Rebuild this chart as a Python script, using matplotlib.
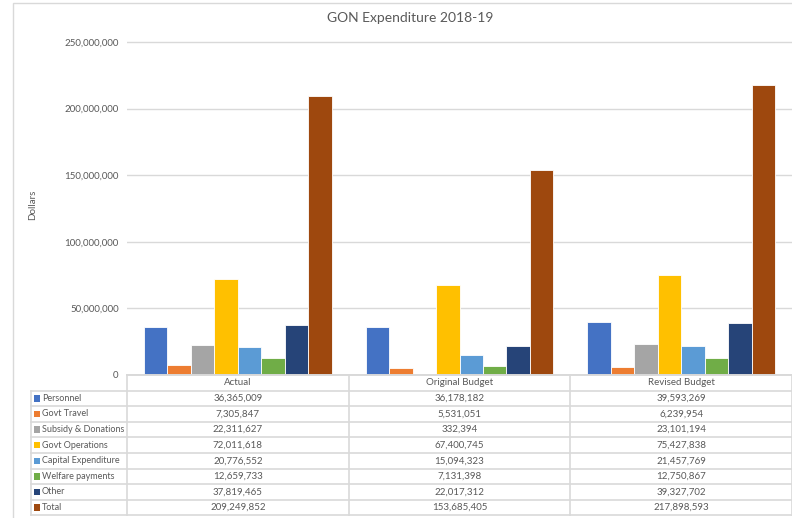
import numpy as np
import matplotlib.pyplot as plt
from matplotlib.patches import Rectangle

plt.rcParams['font.family'] = ['Lato', 'DejaVu Sans']

categories = ['Actual', 'Original Budget', 'Revised Budget']
series = ['Personnel', 'Govt Travel', 'Subsidy & Donations', 'Govt Operations',
          'Capital Expenditure', 'Welfare payments', 'Other', 'Total']
personnel = [36365009, 36178182, 39593269]
govt_travel = [7305847, 5531051, 6239954]
subsidy = [22311627, 332394, 23101194]
govt_ops = [72011618, 67400745, 75427838]
capital = [20776552, 15094323, 21457769]
welfare = [12659733, 7131398, 12750867]
other = [37819465, 22017312, 39327702]
total = [209249852, 153685405, 217898593]
values = [personnel, govt_travel, subsidy, govt_ops, capital, welfare, other, total]
colors = ['#4472C4', '#ED7D31', '#A5A5A5', '#FFC000',
          '#5B9BD5', '#70AD47', '#264478', '#9E480E']

W, H = 792, 518
TXT = '#595959'
GRID = '#D9D9D9'

fig = plt.figure(figsize=(W / 100, H / 100), dpi=100)


def box(x0, y0, x1, y1):
    # pixel box (top-left origin) -> figure fraction rect
    return [x0 / W, 1 - y1 / H, (x1 - x0) / W, (y1 - y0) / H]


# chart frame
fig.patches.append(Rectangle((13 / W, -0.1), 1.2, 1 - 3 / H + 0.1,
                             transform=fig.transFigure, fill=False,
                             edgecolor=GRID, lw=1.0))

# bar plot area
top_px, zero_px = 40, 375
ymax = 250e6 * (zero_px - top_px) / (zero_px - 42)
ax = fig.add_axes(box(127, top_px, 792, zero_px))
ax.set_xlim(-0.5, len(categories) - 0.5)
ax.set_ylim(0, ymax)
n = len(series)
bw = 1 / (n + 1.45)
x = np.arange(len(categories))
for i, (vals, c) in enumerate(zip(values, colors)):
    ax.bar(x + (i - (n - 1) / 2) * bw, vals, width=bw, color=c,
           edgecolor='white', linewidth=0.6, zorder=3)
ticks = np.arange(0, 250e6 + 1, 50e6)
ax.set_yticks(ticks)
ax.set_yticklabels([f'{int(t):,}' for t in ticks])
ax.tick_params(axis='y', length=0, pad=6, labelsize=7, labelcolor=TXT)
ax.set_xticks([])
ax.grid(axis='y', color=GRID, lw=1.0, zorder=0)
for s in ax.spines.values():
    s.set_visible(False)
ax.axhline(0, color=GRID, lw=1.2, zorder=4, clip_on=False)

fig.text(410 / W, 1 - 18 / H, 'GON Expenditure 2018-19', ha='center',
         va='center', fontsize=10, color=TXT)
fig.text(33 / W, 1 - 205 / H, 'Dollars', rotation=90, ha='center',
         va='center', fontsize=7, color=TXT)

# data table below the bars
tx0, tx1 = 31, 792
ty0, row_h = 375, 15.6
col_w = (tx1 - 127) / len(categories)
tab_bottom = ty0 + row_h * (n + 1)
axt = fig.add_axes(box(tx0, ty0, tx1, tab_bottom + 2))
axt.set_xlim(tx0, tx1)
axt.set_ylim(tab_bottom + 2, ty0)
axt.axis('off')

col_edges = [127 + k * col_w for k in range(len(categories) + 1)]
lw = 1.2
# header row
axt.plot([127, tx1], [ty0, ty0], color=GRID, lw=lw, clip_on=False)
for xe in col_edges:
    axt.plot([xe, xe], [ty0, tab_bottom], color=GRID, lw=lw, clip_on=False)
axt.plot([tx0, tx0], [ty0 + row_h, tab_bottom], color=GRID, lw=lw, clip_on=False)
for r in range(1, n + 2):
    yy = ty0 + r * row_h
    axt.plot([tx0, tx1], [yy, yy], color=GRID, lw=lw, clip_on=False)

for k, cat in enumerate(categories):
    axt.text(127 + (k + 0.5) * col_w, ty0 + row_h / 2, cat, ha='center',
             va='center', fontsize=7, color=TXT)

for r, (name, vals, c) in enumerate(zip(series, values, colors)):
    yc = ty0 + (r + 1.5) * row_h
    axt.add_patch(Rectangle((tx0 + 3, yc - 3.2), 6.4, 6.4, color=c, lw=0))
    axt.text(tx0 + 11, yc, name, ha='left', va='center', fontsize=6.5, color=TXT)
    for k, v in enumerate(vals):
        axt.text(127 + (k + 0.5) * col_w, yc, f'{v:,}', ha='center',
                 va='center', fontsize=7, color=TXT)

fig.savefig('out.png', dpi=100, facecolor='white')
